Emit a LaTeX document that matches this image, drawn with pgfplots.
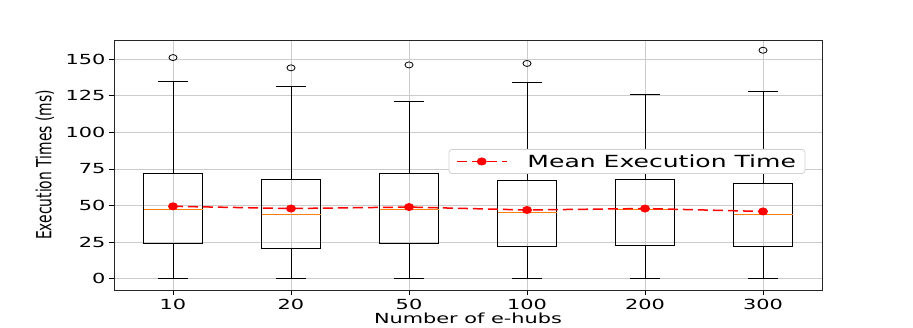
\documentclass[border=0pt]{standalone}
\usepackage{fontspec}
\setmainfont{DejaVu Sans}[FakeStretch=1.5]
\newfontfamily\ylfont{DejaVu Sans}[FakeStretch=0.667]
\usepackage{pgfplots}
\pgfplotsset{compat=1.18}
\usepgfplotslibrary{statistics}
\definecolor{mplorange}{HTML}{FF7F0E}
\definecolor{mred}{HTML}{FF0000}
\pgfplotsset{bx/.style={black, line width=1.0pt, mark=none, solid,
  boxplot/draw direction=y,
  boxplot/every median/.style={draw=mplorange, line width=1.0pt},
  forget plot}}
\begin{document}
\begin{tikzpicture}
\begin{axis}[
  scale only axis, width=708pt, height=250pt,
  xmin=0.5, xmax=6.5, ymin=-7.6, ymax=163,
  xtick={1,2,3,4,5,6}, xticklabels={10,20,50,100,200,300},
  ytick={0,25,50,75,100,125,150},
  grid=major, grid style={gray!40, line width=0.8pt},
  axis line style={black!85, line width=0.8pt},
  tick style={black, line width=0.8pt}, tick align=outside, major tick length=5pt,
  xtick pos=bottom, ytick pos=left,
  /pgf/number format/assume math mode=true,
  tick label style={font=\fontsize{13.9}{16}\selectfont},
  xticklabel style={yshift=-1pt},
  xlabel={Number of e-hubs}, ylabel={Execution Times (ms)},
  xlabel style={font=\fontsize{13.9}{16}\selectfont, at={(axis description cs:0.5,-0.112)}, anchor=center},
  ylabel style={font=\ylfont\fontsize{20.8}{24}\selectfont, at={(axis description cs:-0.0975,0.5)}, anchor=center},
  legend style={at={(axis cs:4.847,80.1)}, anchor=center, draw=gray!35, rounded corners=3pt,
    line width=0.8pt, font=\fontsize{16.7}{19}\selectfont, inner xsep=7pt, inner ysep=3pt},
  legend image code/.code={\draw[mark repeat=2,mark phase=2] plot coordinates {(0pt,0pt) (25pt,0pt) (50pt,0pt)};},
]
\addplot[bx, boxplot prepared={draw position=1, lower whisker=0, lower quartile=24, median=47, upper quartile=72, upper whisker=135, box extend=0.5, whisker extend=0.25}] coordinates {};
\addplot[bx, boxplot prepared={draw position=2, lower whisker=0, lower quartile=21, median=44, upper quartile=68, upper whisker=131, box extend=0.5, whisker extend=0.25}] coordinates {};
\addplot[bx, boxplot prepared={draw position=3, lower whisker=0, lower quartile=24, median=47, upper quartile=72, upper whisker=121, box extend=0.5, whisker extend=0.25}] coordinates {};
\addplot[bx, boxplot prepared={draw position=4, lower whisker=0, lower quartile=22, median=45, upper quartile=67, upper whisker=134, box extend=0.5, whisker extend=0.25}] coordinates {};
\addplot[bx, boxplot prepared={draw position=5, lower whisker=0, lower quartile=22.5, median=47, upper quartile=68, upper whisker=126, box extend=0.5, whisker extend=0.25}] coordinates {};
\addplot[bx, boxplot prepared={draw position=6, lower whisker=0, lower quartile=22, median=44, upper quartile=65, upper whisker=128, box extend=0.5, whisker extend=0.25}] coordinates {};
\addplot[only marks, black, mark=o, mark size=3pt, mark options={xscale=1.35, line width=0.8pt}, forget plot]
  coordinates {(1,151) (2,144) (3,146) (4,147) (6,156)};
\addplot[color=mred, line width=1.5pt, dash pattern=on 10pt off 5pt, mark=*, mark size=3.2pt,
  mark options={solid, xscale=1.3}] coordinates {(1,49.5) (2,48) (3,49) (4,47) (5,48) (6,46)};
\addlegendentry{\hspace{18pt}Mean Execution Time}
\end{axis}
\path (current axis.south west) ++(-114pt,-37pt) rectangle ([shift={(91pt,40pt)}]current axis.north east);
\end{tikzpicture}
\end{document}
